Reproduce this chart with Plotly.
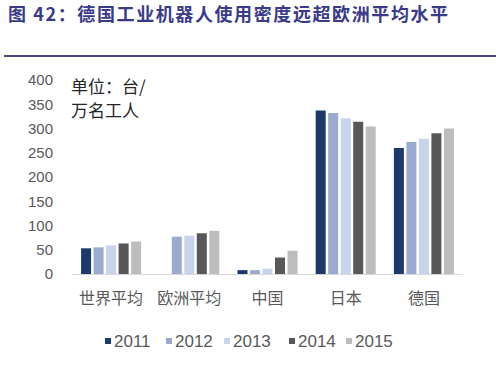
import plotly.graph_objects as go

categories = ["世界平均", "欧洲平均", "中国", "日本", "德国"]
years = ["2011", "2012", "2013", "2014", "2015"]
values = {
    "2011": [53, None, 8, 337, 260],
    "2012": [55, 77, 8, 332, 272],
    "2013": [59, 79, 11, 321, 279],
    "2014": [63, 84, 34, 314, 290],
    "2015": [67, 89, 48, 304, 300],
}
colors = ["#1B3A6B", "#9AAAD0", "#C8D4EC", "#58585A", "#BDBDBD"]
y_ticks = [0, 50, 100, 150, 200, 250, 300, 350, 400]

fig = go.Figure()
for yr, c in zip(years, colors):
    fig.add_trace(go.Bar(x=categories, y=values[yr], name=yr, marker_color=c,
                         marker_line_width=0, showlegend=False))

FONT = "Noto Sans CJK SC, Liberation Sans, Arial, sans-serif"
NUMF = "Liberation Sans, Arial, sans-serif"

# plot area 391 x 194, starting at (72, 80)
def X(px):
    return (px - 72) / 391

def Y(py):
    return 1 - (py - 80) / 194

fig.update_layout(
    width=496, height=375,
    margin=dict(l=72, r=33, t=80, b=101),
    paper_bgcolor="white", plot_bgcolor="white",
    barmode="group", bargap=0.2, bargroupgap=0.2,
    font=dict(family=FONT, color="#595959"),
    xaxis=dict(showgrid=False, showline=True, linecolor="#D9D9D9", linewidth=1,
               ticks="", tickfont=dict(size=16, color="#595959"),
               ticklabelstandoff=10),
    yaxis=dict(range=[0, 400], tickvals=y_ticks, showgrid=False, showline=False,
               zeroline=False, ticks="",
               tickfont=dict(size=15, color="#595959", family=NUMF),
               ticklabelstandoff=18),
)

# title and rule
fig.add_annotation(
    text="<b><span style='letter-spacing:1.6px'>图 42：德国工业机器人使用密度远超欧洲平均水平</span></b>",
    xref="paper", yref="paper", x=X(6), y=Y(13),
    xanchor="left", yanchor="middle", showarrow=False,
    font=dict(size=18, color="#3A3A8A", family=FONT))
fig.add_shape(type="line", xref="paper", yref="paper",
              x0=X(4), x1=X(496), y0=Y(56), y1=Y(56),
              line=dict(color="#4A4A80", width=2))

# unit label
fig.add_annotation(text="单位：台/", xref="paper", yref="paper",
                   x=X(69), y=Y(85.5), xanchor="left", yanchor="middle",
                   showarrow=False, font=dict(size=17, color="#262626", family=FONT))
fig.add_annotation(text="万名工人", xref="paper", yref="paper",
                   x=X(69), y=Y(109.5), xanchor="left", yanchor="middle",
                   showarrow=False, font=dict(size=17, color="#262626", family=FONT))

# legend built from series
leg_x = [108, 169, 227, 292, 349]
for yr, c, lx in zip(years, colors, leg_x):
    fig.add_shape(type="rect", xref="paper", yref="paper",
                  x0=X(lx - 3), x1=X(lx + 3), y0=Y(344), y1=Y(338),
                  fillcolor=c, line_width=0)
    fig.add_annotation(text=yr, xref="paper", yref="paper",
                       x=X(lx + 4), y=Y(341),
                       xanchor="left", yanchor="middle", showarrow=False,
                       font=dict(size=17, color="#595959", family=NUMF))

fig.write_html("out.html", config={"displayModeBar": False},
               post_script="document.body.style.margin='0';document.body.style.overflow='hidden';")
